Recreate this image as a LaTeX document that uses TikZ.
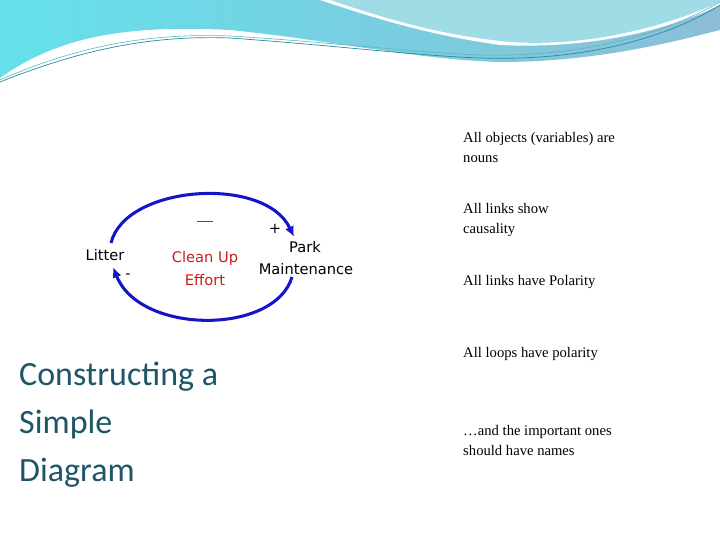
\documentclass[tikz,border=0pt]{standalone}
\usepackage{fontspec}
\usetikzlibrary{arrows.meta}
\setmainfont{Liberation Serif}
\newfontfamily\carlitofam{Carlito}
\newfontfamily\dejavufam{DejaVu Sans}
\definecolor{hdrL}{RGB}{100,225,235}
\definecolor{hdrR}{RGB}{140,190,215}
\definecolor{hdrP}{RGB}{160,220,230}
\definecolor{lnA}{RGB}{40,140,160}
\definecolor{lnB}{RGB}{90,180,190}
\definecolor{loopblue}{RGB}{20,20,200}
\definecolor{redtxt}{RGB}{200,30,30}
\definecolor{titlec}{RGB}{30,85,105}
\begin{document}
\begin{tikzpicture}[x=0.03cm,y=-0.03cm,
  lbl/.style={font=\dejavufam\fontsize{12.5}{15}\selectfont,inner sep=0pt},
  note/.style={font=\fontsize{12.5}{17}\selectfont,anchor=north west,align=left,inner sep=0pt},
  loop/.style={draw=loopblue,line width=2.6pt,-{Latex[length=9pt,width=8pt]}}]
\useasboundingbox (0,0) rectangle (720,540);
\fill[white] (0,0) rectangle (720,540);
\shade[left color=hdrL,right color=hdrR]
 (0,0) -- (0,78) .. controls (60,35) and (130,25) .. (230,30) .. controls (330,40) and (420,60) .. (500,62) .. controls (600,62) and (680,40) .. (720,30) -- (720,0) -- cycle;
\fill[white] (320,0) .. controls (380,20) and (430,35) .. (500,45) .. controls (600,50) and (680,25) .. (720,5) -- (720,0) -- cycle;
\fill[hdrP] (330,0) .. controls (390,20) and (440,35) .. (510,42) .. controls (600,48) and (680,20) .. (720,2) -- (720,0) -- cycle;
\draw[lnA,line width=0.6pt] (0,82) .. controls (80,50) and (150,35) .. (230,38) .. controls (330,45) and (420,56) .. (480,58) .. controls (600,62) and (680,30) .. (720,5);
\draw[lnB,line width=0.5pt] (0,80) .. controls (80,45) and (150,33) .. (230,36) .. controls (330,42) and (420,53) .. (480,55) .. controls (600,58) and (680,25) .. (720,2);
\node[lbl] (litter) at (105,255) {Litter};
\node[lbl] (park) at (305,247) {Park};
\node[lbl] (maint) at (306,269) {Maintenance};
\node[lbl,text=redtxt] (cu) at (205,258) {Clean Up};
\node[lbl,text=redtxt] (ef) at (205,280) {Effort};
\node[lbl,text=redtxt] (dash) at (205,221) {\rule{14pt}{0.8pt}};
\node[lbl] (plus) at (275,229) {+};
\node[lbl] (minus) at (128,276) {-};
\coordinate (a1) at (111,243);
\coordinate (a2) at (294,237);
\coordinate (b1) at (292,277);
\coordinate (b2) at (113,267);
\draw[loop] (a1) .. controls (125,185) and (265,175) .. (a2);
\draw[loop] (b1) .. controls (275,335) and (140,335) .. (b2);
\node[note] (n1) at (463,132) {All objects (variables) are\\nouns};
\node[note] (n2) at (463,203) {All links show\\causality};
\node[note] (n3) at (463,275) {All links have Polarity};
\node[note] (n4) at (463,347) {All loops have polarity};
\node[note] (n5) at (463,425) {…and the important ones\\should have names};
\node[anchor=north west,align=left,inner sep=0pt,font=\carlitofam\fontsize{29}{41}\selectfont,text=titlec] (title) at (19,362) {Constructing a\\Simple\\Diagram};
\end{tikzpicture}
\end{document}
